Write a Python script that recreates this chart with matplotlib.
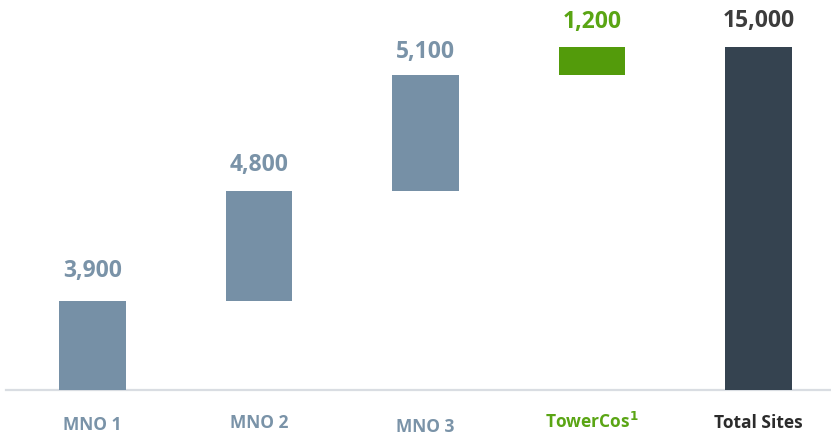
import matplotlib
matplotlib.use("Agg")
import matplotlib.pyplot as plt

categories = ["MNO 1", "MNO 2", "MNO 3", "TowerCos", "Total Sites"]
values = [3900, 4800, 5100, 1200, 15000]
value_labels = ["3,900", "4,800", "5,100", "1,200", "15,000"]
is_total = [False, False, False, False, True]

bar_colors = ["#7690a6", "#7690a6", "#7690a6", "#539b0b", "#354350"]
value_colors = ["#7a93a8", "#7a93a8", "#7a93a8", "#5aa514", "#3c3c3c"]
label_colors = ["#7a93a8", "#7a93a8", "#7a93a8", "#5aa514", "#2b2b2b"]
value_gap_pt = [18, 15.1, 12.7, 14.4, 15.1]
label_off_pt = [-24.5, -23.5, -26, -22.5, -23.5]

plt.rcParams['font.family'] = ['Open Sans', 'DejaVu Sans']

fig = plt.figure(figsize=(8.31, 4.35), dpi=100)
ax = fig.add_axes([0, 0, 1, 1])
ax.set_axis_off()

bottoms = []
running = 0
for v, t in zip(values, is_total):
    if t:
        bottoms.append(0)
    else:
        bottoms.append(running)
        running += v

xs = list(range(len(categories)))
ax.bar(xs, values, bottom=bottoms, width=0.40, color=bar_colors, zorder=2)

ax.set_xlim(-0.5556, 4.435)
ax.set_ylim(-1940, 17116)

ax.axhline(0, xmin=6/831, xmax=1, color="#d9dde2", lw=1.6, zorder=1)

for x, v, b, lab, c, g in zip(xs, values, bottoms, value_labels, value_colors, value_gap_pt):
    ax.annotate(lab, (x, b + v), xytext=(0, g), textcoords="offset points",
                ha="center", va="baseline", fontsize=16.5, fontweight="bold", color=c)

for x, cat, c, off in zip(xs, categories, label_colors, label_off_pt):
    txt = cat + ("$^{\\mathbf{1}}$" if cat == "TowerCos" else "")
    ax.annotate(txt, (x, 0), xytext=(0, off), textcoords="offset points",
                ha="center", va="center", fontsize=12.5, fontweight="bold", color=c)

fig.savefig("out.png", dpi=100)
